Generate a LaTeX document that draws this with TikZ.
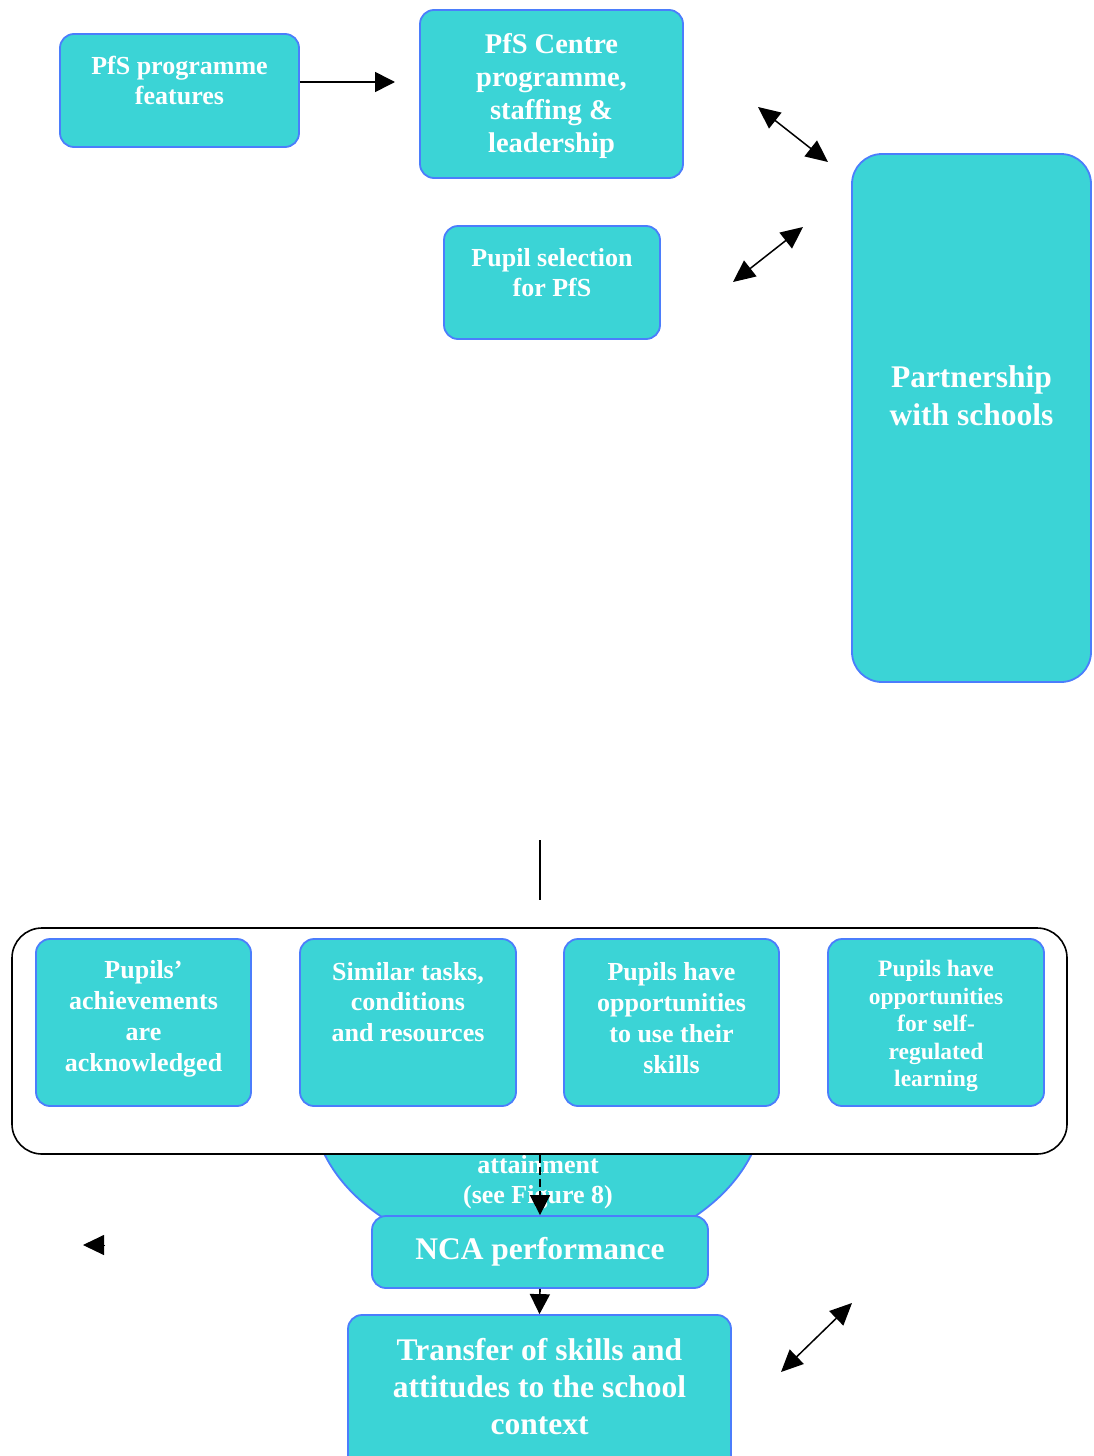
\documentclass[tikz,border=0pt]{standalone}
\usepackage{fontspec}
\setmainfont{Liberation Serif}
\usetikzlibrary{arrows.meta,shapes.geometric}
\definecolor{fillc}{RGB}{59,212,214}
\definecolor{bordc}{RGB}{75,125,252}
\tikzset{
  box/.style={draw=bordc, fill=fillc, line width=1.8pt, rounded corners=14pt, inner sep=0pt},
  txt/.style={text=white, align=center, inner sep=0pt},
  arr/.style={line width=1.6pt, -{Triangle[length=20pt,width=20pt]}},
  darr/.style={line width=1.5pt, {Triangle[length=22pt,width=20pt]}-{Triangle[length=22pt,width=20pt]}},
  dasharr/.style={line width=1.6pt, dash pattern=on 8pt off 4pt, -{Triangle[length=20pt,width=20pt]}},
}
\newcommand{\fs}[2]{\fontsize{#1}{#2}\selectfont\bfseries}
\begin{document}
\begin{tikzpicture}[x=1pt,y=-1pt]
\useasboundingbox (0,0) rectangle (1093,1456);
\fill[white] (0,0) rectangle (1093,1456);

% top boxes
\node[box, minimum width=239pt, minimum height=113pt] (feat) at (179.5,90.5) {};
\node[txt, font=\fs{26}{30}] (featt) at (179.5,81) {PfS programme\\features};

\node[box, minimum width=263pt, minimum height=168pt] (centre) at (551.5,94) {};
\node[txt, font=\fs{28.5}{33}] (centret) at (551.5,96) {PfS Centre\\programme,\\staffing \&\\leadership};

\node[box, minimum width=216pt, minimum height=113pt] (sel) at (552,282.5) {};
\node[txt, font=\fs{26}{30}] (selt) at (552,273) {Pupil selection\\for PfS};

\node[box, rounded corners=30pt, minimum width=239pt, minimum height=528pt] (part) at (971.5,418) {};
\node[txt, font=\fs{31.5}{38}] (partt) at (971.5,396) {Partnership\\with schools};

% arrows at top
\coordinate (a1) at (395,82);
\draw[arr] (feat.east |- a1) -- (a1);
\coordinate (d1a) at (758,107);
\coordinate (d1b) at (828,162);
\draw[darr] (d1a) -- (d1b);
\coordinate (d2a) at (733,282);
\coordinate (d2b) at (803,227);
\draw[darr] (d2a) -- (d2b);
\coordinate (l1a) at (540,840);
\coordinate (l1b) at (540,900);
\draw[line width=1.6pt] (l1a) -- (l1b);

% ellipse behind container
\node[draw=bordc, fill=fillc, line width=1.8pt, ellipse, minimum width=452pt, minimum height=318pt, inner sep=0pt] (ell) at (538,1102) {};
\node[txt, font=\fs{26}{30}] (ellt) at (538,1182) {attainment\\(see Figure 8)};

% container
\node[draw=black, fill=white, line width=1.6pt, rounded corners=30pt, minimum width=1055pt, minimum height=226pt, inner sep=0pt] (cont) at (539.5,1041) {};

\node[box, minimum width=215pt, minimum height=167pt] (ach) at (143.5,1022.5) {};
\node[txt, font=\fs{26}{31}] (acht) at (143.5,1019) {Pupils’\\achievements\\are\\acknowledged};

\node[box, minimum width=216pt, minimum height=167pt] (sim) at (408,1022.5) {};
\node[txt, font=\fs{26}{30.5}] (simt) at (408,1002) {Similar tasks,\\conditions\\and resources};

\node[box, minimum width=215pt, minimum height=167pt] (opp) at (671.5,1022.5) {};
\node[txt, font=\fs{26}{31}] (oppt) at (671.5,1018) {Pupils have\\opportunities\\to use their\\skills};

\node[box, minimum width=216pt, minimum height=167pt] (self) at (936,1022.5) {};
\node[txt, font=\fs{23.5}{27.5}] (selft) at (936,1026) {Pupils have\\opportunities\\for self-\\regulated\\learning};

% bottom boxes
\node[box, minimum width=336pt, minimum height=72pt] (nca) at (540,1252) {};
\node[txt, font=\fs{31.5}{37}] (ncat) at (540,1252) {NCA performance};

\node[box, minimum width=383pt, minimum height=170pt] (trans) at (539.5,1400) {};
\node[txt, font=\fs{31.5}{37}] (transt) at (539.5,1387) {Transfer of skills and\\attitudes to the school\\context};

% bottom arrows
\draw[dasharr] (cont.south -| nca.north) -- (nca.north);
\draw[dasharr] (nca.south) -- (trans.north);
\coordinate (la) at (105,1245);
\coordinate (lb) at (83,1245);
\draw[line width=1pt, -{Triangle[length=21pt,width=20pt]}] (la) -- (lb);
\coordinate (d3a) at (781,1372);
\coordinate (d3b) at (852,1303);
\draw[darr] (d3a) -- (d3b);
\end{tikzpicture}
\end{document}
